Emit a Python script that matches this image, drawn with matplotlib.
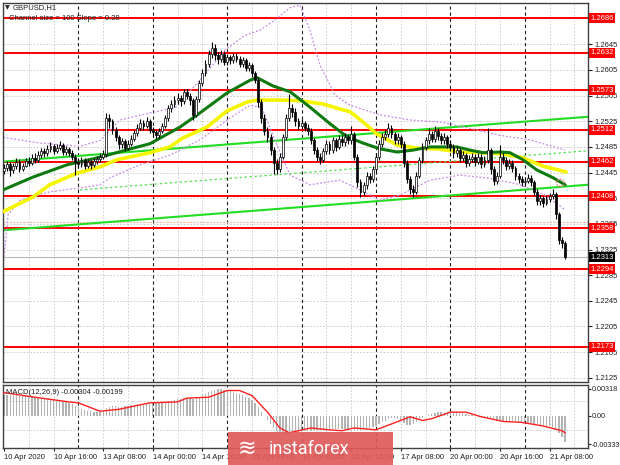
import matplotlib
matplotlib.use('Agg')
import matplotlib.pyplot as plt
from matplotlib.patches import Rectangle, Ellipse

# ---------------- data ----------------
first_open = 1.2448
closes = [
1.2452, 1.2458, 1.2449, 1.2455, 1.2462, 1.2450, 1.2456, 1.2463, 1.2460, 1.2468,
1.2465, 1.2472, 1.2478, 1.2475, 1.2482, 1.2486, 1.2479, 1.2484, 1.2488, 1.2477,
1.2481, 1.2476, 1.2470, 1.2462, 1.2458, 1.2464, 1.2456, 1.2461, 1.2457, 1.2463,
1.2466, 1.2470, 1.2474, 1.2530, 1.2525, 1.2512, 1.2500, 1.2489, 1.2494, 1.2484,
1.2490, 1.2498, 1.2506, 1.2515, 1.2522, 1.2518, 1.2525, 1.2512, 1.2508, 1.2503,
1.2510, 1.2518, 1.2530, 1.2545, 1.2552, 1.2558, 1.2562, 1.2556, 1.2570, 1.2565,
1.2558, 1.2535, 1.2560, 1.2585, 1.2600, 1.2615, 1.2630, 1.2640, 1.2628, 1.2622,
1.2630, 1.2618, 1.2625, 1.2620, 1.2627, 1.2622, 1.2615, 1.2620, 1.2608, 1.2612,
1.2600, 1.2590, 1.2555, 1.2530, 1.2510, 1.2500, 1.2480, 1.2460, 1.2450, 1.2470,
1.2500, 1.2530, 1.2545, 1.2540, 1.2525, 1.2518, 1.2522, 1.2515, 1.2510, 1.2495,
1.2480, 1.2470, 1.2465, 1.2478, 1.2490, 1.2480, 1.2495, 1.2485, 1.2498, 1.2492,
1.2500, 1.2495, 1.2505, 1.2470, 1.2430, 1.2415, 1.2425, 1.2440, 1.2435, 1.2450,
1.2470, 1.2490, 1.2500, 1.2505, 1.2515, 1.2505, 1.2495, 1.2500, 1.2490, 1.2460,
1.2435, 1.2420, 1.2415, 1.2440, 1.2465, 1.2485, 1.2495, 1.2505, 1.2498, 1.2510,
1.2502, 1.2495, 1.2500, 1.2490, 1.2485, 1.2475, 1.2480, 1.2468, 1.2472, 1.2460,
1.2466, 1.2470, 1.2462, 1.2470, 1.2458, 1.2465, 1.2480, 1.2450, 1.2432, 1.2440,
1.2470, 1.2465, 1.2455, 1.2460, 1.2452, 1.2440, 1.2435, 1.2430, 1.2432, 1.2437,
1.2430, 1.2415, 1.2400, 1.2405, 1.2398, 1.2403, 1.2408, 1.2412, 1.2380, 1.2340,
1.2335, 1.2313]
highs = [
1.2458, 1.2463, 1.2462, 1.2460, 1.2468, 1.2466, 1.2460, 1.2468, 1.2470, 1.2474,
1.2475, 1.2478, 1.2484, 1.2483, 1.2488, 1.2492, 1.2490, 1.2489, 1.2494, 1.2491,
1.2487, 1.2485, 1.2480, 1.2474, 1.2468, 1.2469, 1.2467, 1.2466, 1.2465, 1.2468,
1.2471, 1.2476, 1.2480, 1.2538, 1.2537, 1.2528, 1.2516, 1.2504, 1.2499, 1.2497,
1.2495, 1.2503, 1.2511, 1.2520, 1.2528, 1.2527, 1.2531, 1.2528, 1.2516, 1.2512,
1.2515, 1.2523, 1.2535, 1.2550, 1.2558, 1.2565, 1.2569, 1.2566, 1.2576, 1.2575,
1.2569, 1.2562, 1.2565, 1.2590, 1.2606, 1.2621, 1.2636, 1.2648, 1.2645, 1.2633,
1.2636, 1.2634, 1.2630, 1.2629, 1.2632, 1.2631, 1.2626, 1.2625, 1.2624, 1.2617,
1.2616, 1.2604, 1.2594, 1.2560, 1.2536, 1.2516, 1.2505, 1.2485, 1.2466, 1.2475,
1.2505, 1.2536, 1.2568, 1.2552, 1.2545, 1.2530, 1.2528, 1.2526, 1.2520, 1.2514,
1.2499, 1.2485, 1.2475, 1.2483, 1.2496, 1.2494, 1.2501, 1.2499, 1.2504, 1.2503,
1.2506, 1.2505, 1.2518, 1.2509, 1.2474, 1.2435, 1.2431, 1.2446, 1.2445, 1.2456,
1.2476, 1.2496, 1.2506, 1.2511, 1.2522, 1.2519, 1.2509, 1.2506, 1.2504, 1.2494,
1.2464, 1.2440, 1.2426, 1.2446, 1.2470, 1.2491, 1.2501, 1.2514, 1.2510, 1.2517,
1.2514, 1.2507, 1.2506, 1.2504, 1.2495, 1.2489, 1.2486, 1.2484, 1.2478, 1.2476,
1.2472, 1.2476, 1.2474, 1.2476, 1.2474, 1.2471, 1.2515, 1.2484, 1.2455, 1.2446,
1.2488, 1.2476, 1.2469, 1.2466, 1.2464, 1.2456, 1.2445, 1.2440, 1.2438, 1.2442,
1.2441, 1.2434, 1.2419, 1.2410, 1.2408, 1.2408, 1.2413, 1.2420, 1.2415, 1.2384,
1.2345, 1.2338]
lows = [
1.2442, 1.2447, 1.2440, 1.2444, 1.2451, 1.2446, 1.2447, 1.2453, 1.2455, 1.2457,
1.2460, 1.2462, 1.2468, 1.2470, 1.2471, 1.2477, 1.2474, 1.2475, 1.2480, 1.2472,
1.2473, 1.2471, 1.2465, 1.2441, 1.2452, 1.2454, 1.2450, 1.2452, 1.2451, 1.2453,
1.2458, 1.2461, 1.2466, 1.2470, 1.2515, 1.2505, 1.2494, 1.2482, 1.2484, 1.2478,
1.2480, 1.2486, 1.2494, 1.2502, 1.2511, 1.2512, 1.2514, 1.2507, 1.2502, 1.2498,
1.2499, 1.2506, 1.2514, 1.2526, 1.2540, 1.2547, 1.2552, 1.2549, 1.2552, 1.2559,
1.2550, 1.2527, 1.2531, 1.2555, 1.2580, 1.2595, 1.2610, 1.2624, 1.2620, 1.2615,
1.2618, 1.2613, 1.2613, 1.2615, 1.2616, 1.2617, 1.2609, 1.2610, 1.2603, 1.2603,
1.2594, 1.2584, 1.2548, 1.2522, 1.2503, 1.2492, 1.2472, 1.2443, 1.2443, 1.2446,
1.2466, 1.2496, 1.2525, 1.2532, 1.2518, 1.2512, 1.2513, 1.2510, 1.2504, 1.2489,
1.2474, 1.2463, 1.2458, 1.2461, 1.2474, 1.2474, 1.2476, 1.2478, 1.2481, 1.2486,
1.2487, 1.2489, 1.2490, 1.2464, 1.2422, 1.2407, 1.2410, 1.2420, 1.2428, 1.2431,
1.2446, 1.2465, 1.2485, 1.2495, 1.2500, 1.2499, 1.2489, 1.2490, 1.2484, 1.2454,
1.2428, 1.2412, 1.2407, 1.2411, 1.2436, 1.2460, 1.2480, 1.2490, 1.2492, 1.2493,
1.2496, 1.2489, 1.2490, 1.2484, 1.2478, 1.2468, 1.2470, 1.2462, 1.2463, 1.2454,
1.2455, 1.2461, 1.2456, 1.2458, 1.2452, 1.2453, 1.2460, 1.2443, 1.2425, 1.2427,
1.2436, 1.2459, 1.2449, 1.2450, 1.2446, 1.2434, 1.2429, 1.2424, 1.2425, 1.2428,
1.2424, 1.2408, 1.2394, 1.2395, 1.2392, 1.2394, 1.2399, 1.2403, 1.2372, 1.2333,
1.2328, 1.2310]

# moving averages (bar index, price)
ma_fast_x = [-0.3, 9.4, 20.3, 31, 41.6, 47.1, 56.8, 63.2, 71.9, 79.4, 81.6, 86.8, 92.3, 98.7, 105.2,
             110.6, 115.8, 121.3, 126.8, 131.9, 137.4, 146.1, 150.3, 154.5, 160, 163.2, 167.4, 171.9, 177.1, 181]
ma_fast_y = [1.2418, 1.2438, 1.2457, 1.2469, 1.2483, 1.2490, 1.2516, 1.2538, 1.2569, 1.2589, 1.2593, 1.2580,
             1.2571, 1.2547, 1.2521, 1.2501, 1.2491, 1.2482, 1.2477, 1.2480, 1.2485, 1.2485, 1.2480, 1.2476,
             1.2477, 1.2476, 1.2465, 1.2449, 1.2437, 1.2426]
ma_slow_x = [-0.3, 9.4, 14.8, 23.5, 31, 36.5, 47.1, 53.5, 57.7, 65.5, 71.9, 78.4, 81.6, 90, 95.5, 102.9,
             108.4, 111.6, 115.8, 120.3, 126.8, 133.2, 139.7, 147.1, 153.5, 161, 167.4, 173.9, 181.3]
ma_slow_y = [1.2384, 1.2407, 1.2426, 1.2444, 1.2454, 1.2465, 1.2476, 1.2485, 1.2499, 1.2516, 1.2541, 1.2555,
             1.2558, 1.2558, 1.2557, 1.2552, 1.2544, 1.2540, 1.2524, 1.2505, 1.2488, 1.2483, 1.2482, 1.2477,
             1.2476, 1.2474, 1.2468, 1.2455, 1.2446]

# envelope bands (dotted violet)
band_up_x = [-0.3, 11.6, 24.5, 31, 37.4, 47.1, 55.2, 63.2, 71.3, 77.7, 82.6, 87.4, 92.3, 95.5, 98.7, 101.9,
             106.8, 111.6, 121.3, 131, 140.6, 150.3, 160, 169.7, 181]
band_up_y = [1.2500, 1.2491, 1.2486, 1.2495, 1.2527, 1.2538, 1.2546, 1.2589, 1.2636, 1.2659, 1.2667, 1.2683,
             1.2702, 1.2706, 1.2667, 1.2613, 1.2566, 1.2550, 1.2535, 1.2527, 1.2524, 1.2514, 1.2503, 1.2496, 1.2480]
band_dn_x = [-0.3, 1.3, 5.2, 14.8, 24.5, 31, 34.2, 43.9, 53.5, 63.2, 72.9, 79.4, 83.2, 87.4, 92.3, 98.7,
             108.4, 114.8, 121.3, 127.7, 137.4, 147.1, 156.8, 166.5, 174.5, 181]
band_dn_y = [1.2296, 1.2379, 1.2402, 1.2415, 1.2421, 1.2426, 1.2437, 1.2457, 1.2472, 1.2496, 1.2530, 1.2550,
             1.2546, 1.2496, 1.2441, 1.2426, 1.2433, 1.2418, 1.2402, 1.2410, 1.2433, 1.2441, 1.2436, 1.2426,
             1.2410, 1.2387]

# linear regression channel (bar index, price)
chan_x = [-0.3, 188.4]
chan_up = [1.2462, 1.2532]
chan_dn = [1.2355, 1.2426]
chan_mid_x = [24.5, 188.4]
chan_mid = [1.2418, 1.2479]

levels = [1.2686, 1.2632, 1.2573, 1.2512, 1.2462, 1.2408, 1.2358, 1.2294, 1.2173]
price_ticks = [1.2645, 1.2605, 1.2565, 1.2525, 1.2485, 1.2445, 1.2405, 1.2365, 1.2325,
               1.2285, 1.2245, 1.2205, 1.2165, 1.2125]
last_price = 1.2313
time_bars = [0, 16, 32, 48, 64, 80, 96, 112, 128, 144, 160, 176]
time_labels = ['10 Apr 2020', '10 Apr 16:00', '13 Apr 08:00', '14 Apr 00:00', '14 Apr 16:00',
               '15 Apr 08:00', '16 Apr 00:00', '16 Apr 16:00', '17 Apr 08:00', '20 Apr 00:00',
               '20 Apr 16:00', '21 Apr 08:00']
day_bars = [24, 48, 72, 96, 120, 144, 168]
macd_ticks = [0.00318, 0.0, -0.00333]
macd_tick_labels = ['0.00318', '0.00', '-0.00333']

macd_hist = [
0.00250, 0.00248, 0.00246, 0.00244, 0.00242, 0.00240, 0.00238, 0.00235, 0.00232, 0.00228, 0.00224,
0.00220, 0.00216, 0.00212, 0.00208, 0.00204, 0.00198, 0.00192, 0.00186, 0.00178, 0.00168, 0.00156, 0.00142,
0.00120, 0.00100, 0.00085, 0.00072, 0.00062, 0.00055, 0.00050, 0.00048, 0.00050, 0.00055,
0.00090, 0.00110, 0.00115,
0.00112, 0.00108, 0.00110, 0.00115, 0.00120, 0.00125, 0.00130, 0.00135, 0.00140, 0.00142,
0.00145, 0.00148, 0.00150, 0.00152, 0.00155, 0.00158, 0.00165, 0.00172, 0.00180, 0.00188,
0.00195, 0.00200, 0.00208, 0.00212, 0.00210, 0.00205, 0.00212,
0.00225, 0.00242, 0.00260, 0.00280, 0.00298, 0.00310, 0.00315, 0.00312, 0.00305, 0.00298,
0.00290, 0.00282, 0.00272, 0.00260, 0.00245, 0.00228, 0.00210, 0.00185,
0.00150, 0.00100, 0.00050,
0.00000, -0.00050, -0.00095, -0.00140, -0.00175,
-0.00195, -0.00205, -0.00210, -0.00205, -0.00200, -0.00195, -0.00190, -0.00185,
-0.00180, -0.00178, -0.00176, -0.00172, -0.00170, -0.00168, -0.00166, -0.00164, -0.00162, -0.00160,
-0.00160, -0.00158, -0.00158, -0.00156,
-0.00156, -0.00160, -0.00165, -0.00170, -0.00168, -0.00160, -0.00150, -0.00140, -0.00128, -0.00115,
-0.00095, -0.00075, -0.00055, -0.00040, -0.00030, -0.00025,
-0.00040, -0.00060, -0.00085, -0.00105, -0.00110,
-0.00095, -0.00070, -0.00045, -0.00022, -0.00005,
0.00010, 0.00022, 0.00032, 0.00040, 0.00045, 0.00048, 0.00050, 0.00048,
0.00045, 0.00040, 0.00035, 0.00030, 0.00022, 0.00015, 0.00008,
-0.00005, -0.00015, -0.00022, -0.00030, -0.00035, -0.00040, -0.00048,
-0.00055, -0.00058, -0.00060, -0.00062, -0.00064, -0.00066, -0.00068, -0.00070,
-0.00074, -0.00078, -0.00082, -0.00086, -0.00092, -0.00098, -0.00104, -0.00110,
-0.00116, -0.00122, -0.00128, -0.00160, -0.00200, -0.00250, -0.00304]
sig_x = [0, 10, 21, 24, 31, 37, 47, 56, 59, 66, 72, 76, 80, 85, 89, 92, 99, 105, 109, 113, 120, 124,
         131, 135, 138, 144, 149, 154, 161, 167, 174, 180, 181]
sig_y = [0.00275, 0.00220, 0.00165, 0.00154, 0.00055, 0.00077, 0.00154, 0.00165, 0.00210, 0.00220,
         0.00300, 0.00300, 0.00240, 0.00044, -0.00143, -0.00200, -0.00143, -0.00165, -0.00176, -0.00143,
         -0.00165, -0.00110, -0.00011, -0.00055, -0.00033, 0.00044, 0.00044, -0.00011, -0.00066,
         -0.00077, -0.00120, -0.00176, -0.00199]

# ---------------- drawing ----------------
FONT = 'Liberation Sans'
FS = 5.5
W, H = 620, 465
fig = plt.figure(figsize=(W / 100, H / 100), dpi=100)
fig.patch.set_facecolor('white')
ax = fig.add_axes([3 / W, 1 - 382 / H, 585 / W, 379 / H])
mx = fig.add_axes([3 / W, 1 - 448 / H, 585 / W, 63 / H])

XL = (-0.32, 188.4)
for a in (ax, mx):
    a.set_xlim(*XL)
    for s in a.spines.values():
        s.set_color('#404040')
        s.set_linewidth(1.0)
ax.set_ylim(1.21184, 1.27094)
mx.set_ylim(-0.0038, 0.00365)

n = len(closes)
idx = list(range(n))
opens = [first_open] + closes[:-1]

# grid
grid_col = '#c8c8c8'
for t in price_ticks:
    ax.axhline(t, color=grid_col, lw=0.6, ls=(0, (2, 2)), zorder=0)
for a in (ax, mx):
    for b in range(8, 190, 8):
        if b not in day_bars:
            a.axvline(b, color=grid_col, lw=0.6, ls=(0, (2, 2)), zorder=0)
    for b in day_bars:
        a.axvline(b, color='#202020', lw=0.8, ls=(0, (3, 2.5)), zorder=0.5)
mx.axhline(-0.0017, color=grid_col, lw=0.6, ls=(0, (2, 2)), zorder=0)
mx.axhline(0.0017, color=grid_col, lw=0.6, ls=(0, (2, 2)), zorder=0)

# bid line and dotted level
ax.axhline(last_price, color='#b8b8b8', lw=0.8, zorder=0.6)
ax.axhline(1.2368, color='#f2a88a', lw=0.8, ls=(0, (1.5, 1.5)), zorder=0.6)

# red levels
for lv in levels:
    ax.axhline(lv, color='#ff0000', lw=1.4, zorder=1)

# channel
ax.plot(chan_x, chan_up, color='#22dd22', lw=1.5, zorder=2)
ax.plot(chan_x, chan_dn, color='#22dd22', lw=1.5, zorder=2)
ax.plot(chan_mid_x, chan_mid, color='#55e055', lw=0.9, ls=(0, (2, 2)), zorder=2)

# bands
ax.plot(band_up_x, band_up_y, color='#c68be6', lw=0.9, ls=(0, (1.5, 1.5)), zorder=2)
ax.plot(band_dn_x, band_dn_y, color='#c68be6', lw=0.9, ls=(0, (1.5, 1.5)), zorder=2)

# moving averages
ax.plot(ma_slow_x, ma_slow_y, color='#f5f500', lw=2.6, zorder=3, solid_capstyle='round')
ax.plot(ma_fast_x, ma_fast_y, color='#0f7a0f', lw=2.2, zorder=3.1, solid_capstyle='round')

# candles
ax.vlines(idx, lows, highs, color='black', lw=0.8, zorder=4)
bottoms = [min(o, c) for o, c in zip(opens, closes)]
heights = [max(abs(c - o), 0.00004) for o, c in zip(opens, closes)]
faces = ['white' if c >= o else 'black' for o, c in zip(opens, closes)]
ax.bar(idx, heights, bottom=bottoms, width=0.62, color=faces, edgecolor='black', lw=0.5, zorder=5)

# small ellipse object near the end
ax.add_patch(Ellipse((179.5, 1.2429), 2.6, 0.0011, fill=False, ec='#f08080', lw=1.0, ls=(0, (1, 1)), zorder=6))

# right axis labels
ax.yaxis.tick_right()
ax.set_yticks(price_ticks)
ax.set_yticklabels([f'{t:.4f}' for t in price_ticks], family=FONT)
ax.tick_params(axis='y', labelsize=FS, length=3, width=0.8, pad=2, colors='#202020')
ax.set_xticks([])
ytr = ax.get_yaxis_transform()
for lv in levels:
    ax.annotate(f'{lv:.4f}', xy=(1, lv), xycoords=ytr, xytext=(1.6, 0), textcoords='offset points',
                ha='left', va='center', fontsize=FS, family=FONT, color='white', annotation_clip=False,
                bbox=dict(boxstyle='square,pad=0.2', fc='#ff0000', ec='none'), zorder=20)
ax.annotate(f'{last_price:.4f}', xy=(1, last_price), xycoords=ytr, xytext=(1.6, 0), textcoords='offset points',
            ha='left', va='center', fontsize=FS, family=FONT, color='white', annotation_clip=False,
            bbox=dict(boxstyle='square,pad=0.2', fc='black', ec='none'), zorder=20)

# MACD
mx.bar(idx, macd_hist, width=0.42, color='#b4b4b4', zorder=2)
mx.plot(sig_x, sig_y, color='#ff2020', lw=1.0, zorder=3)
mx.yaxis.tick_right()
mx.set_yticks(macd_ticks)
mx.set_yticklabels(macd_tick_labels, family=FONT)
mx.tick_params(axis='y', labelsize=5.2, length=2, width=0.8, pad=0.6, colors='#202020')
mx.set_xticks(time_bars)
mx.set_xticklabels(time_labels, ha='left', family=FONT)
mx.tick_params(axis='x', labelsize=FS, length=2, width=0.8, pad=2, colors='#202020')
mx.text(0.005, 0.93, 'MACD(12,26,9) -0.00304 -0.00199', transform=mx.transAxes, fontsize=FS,
        family=FONT, va='top', ha='left', color='#202020', zorder=10)

# header texts
fig.text(5 / W, 1 - 8 / H, '\u25bc', fontsize=4.5, va='center', ha='left', color='#202020')
fig.text(13 / W, 1 - 8 / H, 'GBPUSD,H1', fontsize=FS, family=FONT, va='center', ha='left', color='#202020')
fig.text(9 / W, 1 - 18 / H, 'Channel size = 100 Slope = 0.38', fontsize=FS, family=FONT, va='center',
         ha='left', color='#202020', zorder=0)

# watermark
fig.patches.append(Rectangle((228 / W, 0), 165 / W, 33 / H, transform=fig.transFigure,
                             fc='#e05a5a', ec='none', alpha=0.92, zorder=30))
fig.text(269 / W, 1 - 449 / H, 'instaforex', fontsize=13, family='Roboto', color='white',
         va='center', ha='left', zorder=31)
fig.text(238 / W, 1 - 449 / H, '\u224b', fontsize=16, color='white', va='center', ha='left', zorder=31)

fig.savefig('out.png', dpi=100, facecolor='white')
